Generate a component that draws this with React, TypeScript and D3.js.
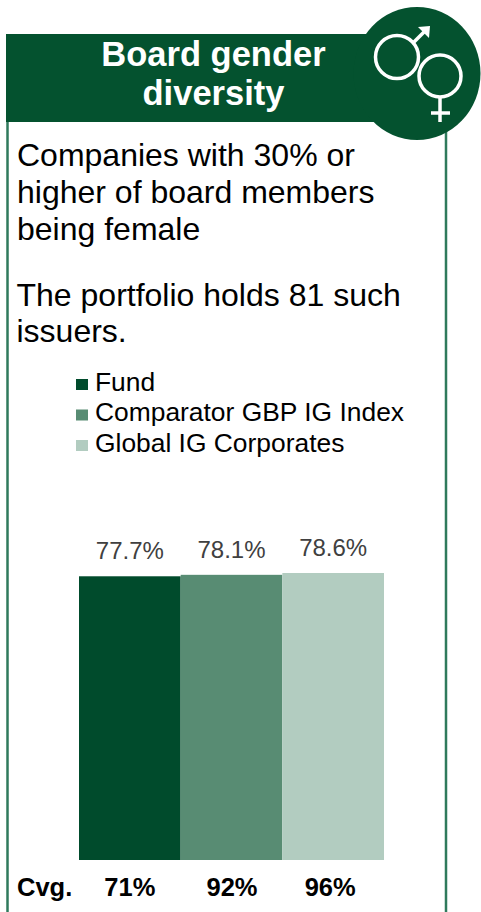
import * as d3 from 'd3';

const categories = ['Fund', 'Comparator GBP IG Index', 'Global IG Corporates'];
const values = [77.7, 78.1, 78.6];
const valueLabels = ['77.7%', '78.1%', '78.6%'];
const coverage = ['71%', '92%', '96%'];
const colors = ['#004b2c', '#588c73', '#b2ccc0'];
const titleLines = ['Board gender', 'diversity'];
const bodyLines = ['Companies with 30% or', 'higher of board members', 'being female'];
const holdsLines = ['The portfolio holds 81 such', 'issuers.'];

const DARK = '#04522f';
const BORDER = '#2f7a5c';
const FONT = '"Liberation Sans", Arial, sans-serif';

// the coverage labels don't sit quite on the bar centres in the original
const COVERAGE_NUDGE = [0, 0.5, -3];

export default function App() {
  const x = d3.scaleBand<string>().domain(categories).range([79, 384]).padding(0);
  const y = d3.scaleLinear().domain([0, 78.6]).range([860, 573]);

  return (
    <svg
      width={481}
      height={912}
      style={{ position: 'absolute', left: 0, top: 0, display: 'block' }}
      fontFamily={FONT}
    >
      <rect x={0} y={0} width={481} height={912} fill="#fff" />

      {/* frame */}
      <line x1={7.5} x2={7.5} y1={122} y2={912} stroke={BORDER} strokeWidth={2.5} />
      <line x1={446} x2={446} y1={130} y2={912} stroke={BORDER} strokeWidth={2.5} />

      {/* header */}
      <rect x={6} y={34} width={400} height={88} fill={DARK} />
      <ellipse cx={417} cy={73.5} rx={63.5} ry={66.5} fill={DARK} />
      {titleLines.map((t, i) => (
        <text key={t} x={213.5} y={66 + i * 39} textAnchor="middle" fontSize={34.5} fontWeight={700} fill="#fff">
          {t}
        </text>
      ))}

      {/* gender icon */}
      <g fill="none" stroke="#fff" strokeWidth={3.5}>
        <circle cx={397} cy={57} r={21.5} />
        <circle cx={440} cy={76} r={21} />
        <path d="M413 43 L426 30" />
        <path d="M440 97 V122" />
        <path d="M431 113 H450" />
      </g>
      <path d="M418 27 L430 26 L429 38 Z" fill="#fff" />

      {/* description */}
      <g fontSize={32} fill="#000">
        {bodyLines.map((t, i) => (
          <text key={t} x={17} y={166 + i * 37}>
            {t}
          </text>
        ))}
        {holdsLines.map((t, i) => (
          <text key={t} x={16.5} y={306 + i * 36}>
            {t}
          </text>
        ))}
      </g>

      {/* legend */}
      {categories.map((c, i) => (
        <g key={c}>
          <rect x={76} y={379 + i * 30.5} width={12} height={11} fill={colors[i]} />
          <text x={95} y={391 + i * 30.4} fontSize={26.4} fill="#000">
            {c}
          </text>
        </g>
      ))}

      {/* bars */}
      {categories.map((c, i) => (
        <g key={c}>
          <rect x={x(c)} y={y(values[i])} width={x.bandwidth()} height={860 - y(values[i])} fill={colors[i]} />
          <text
            x={(x(c) as number) + x.bandwidth() / 2}
            y={y(values[i]) - 17}
            textAnchor="middle"
            fontSize={24}
            fill="#404040"
          >
            {valueLabels[i]}
          </text>
          <text
            x={(x(c) as number) + x.bandwidth() / 2 + COVERAGE_NUDGE[i]}
            y={896}
            textAnchor="middle"
            fontSize={25.5}
            fontWeight={700}
            fill="#000"
          >
            {coverage[i]}
          </text>
        </g>
      ))}
      <text x={17} y={896} fontSize={25.5} fontWeight={700} fill="#000">
        Cvg.
      </text>
    </svg>
  );
}
